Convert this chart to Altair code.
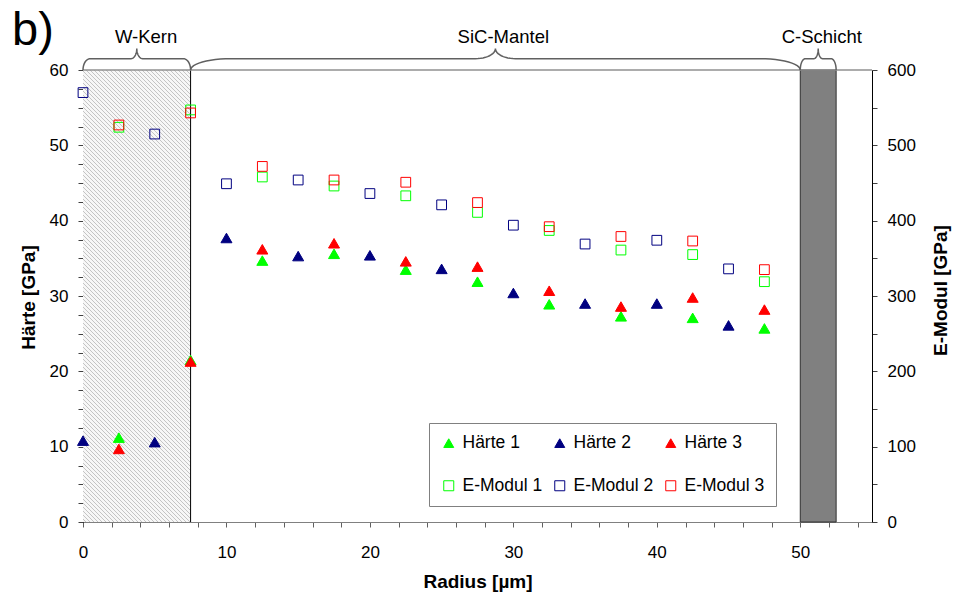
import altair as alt
import pandas as pd
import math

FONT = "Liberation Sans"

# ---------------- data ----------------
X_ODD = [2.5, 7.5, 12.5, 17.5, 22.5, 27.5, 32.5, 37.5, 42.5, 47.5]
X_EVEN = [0, 5, 10, 15, 20, 25, 30, 35, 40, 45]

HAERTE_1 = [11.2, 21.5, 34.7, 35.6, 33.5, 31.9, 28.9, 27.3, 27.1, 25.7]
HAERTE_2 = [10.8, 10.6, 37.7, 35.3, 35.4, 33.6, 30.4, 29.0, 29.0, 26.1]
HAERTE_3 = [9.7, 21.3, 36.2, 37.0, 34.6, 33.9, 30.7, 28.6, 29.8, 28.2]

EMODUL_1 = [524, 547, 458, 446, 433, 411, 387, 361, 355, 319]
EMODUL_2 = [570, 515, 449, 454, 436, 421, 394, 369, 374, 336]
EMODUL_3 = [527, 543, 472, 454, 451, 424, 392, 379, 373, 335]

# legend order (legend grid is filled column by column)
SERIES = ["Härte 1", "E-Modul 1", "Härte 2", "E-Modul 2", "Härte 3", "E-Modul 3"]
STROKES = ["#00FF00", "#00FF00", "#000080", "#000080", "#FF0000", "#FF0000"]
FILLS = ["#00FF00", "transparent", "#000080", "transparent", "#FF0000", "transparent"]
SHAPES = ["triangle-up", "square", "triangle-up", "square", "triangle-up", "square"]

REGION_START = [0, 7.5, 50]
REGION_END = [7.5, 50, 52.5]
REGION_LABEL = ["W-Kern", "SiC-Mantel", "C-Schicht"]
LABEL_X = [4.4, 29.3, 51.5]
BRACE_END_W = [0.5, 2.8, 0.35]
BRACE_CUSP_W = [0.4, 1.4, 0.3]

X_TICKS = list(range(0, 55, 2))
YL_TICKS = [i * 2.5 for i in range(25)]
YR_TICKS = list(range(0, 601, 50))

W, H = 789, 452
XMAX, YMAX, EMAX = 55, 60, 600

# ---------------- tables ----------------
h_rows = []
for name, xs_, vals in [("Härte 1", X_ODD, HAERTE_1), ("Härte 2", X_EVEN, HAERTE_2), ("Härte 3", X_ODD, HAERTE_3)]:
    for x, v in zip(xs_, vals):
        h_rows.append({"r": x, "v": v, "series": name})
h_df = pd.DataFrame(h_rows)

e_rows = []
for name, xs_, vals in [("E-Modul 1", X_ODD, EMODUL_1), ("E-Modul 2", X_EVEN, EMODUL_2), ("E-Modul 3", X_ODD, EMODUL_3)]:
    for x, v in zip(xs_, vals):
        e_rows.append({"r": x, "v": v, "series": name})
e_df = pd.DataFrame(e_rows)

FLAT_H, PEAK_H = 1.5, 2.85
brace_rows = []
for gi, (x0, x1, ew, cw) in enumerate(zip(REGION_START, REGION_END, BRACE_END_W, BRACE_CUSP_W)):
    m = (x0 + x1) / 2
    pts = []
    n = 12
    for i in range(n + 1):
        t = math.pi / 2 * i / n
        pts.append((x0 + ew * (1 - math.cos(t)), YMAX + FLAT_H * math.sin(t)))
    for i in range(n + 1):
        t = math.pi / 2 * i / n
        pts.append((m - cw + cw * math.sin(t), YMAX + FLAT_H + (PEAK_H - FLAT_H) * (1 - math.cos(t))))
    for i in range(n + 1):
        t = math.pi / 2 * (n - i) / n
        pts.append((m + cw - cw * math.sin(t), YMAX + FLAT_H + (PEAK_H - FLAT_H) * (1 - math.cos(t))))
    for i in range(n + 1):
        t = math.pi / 2 * (n - i) / n
        pts.append((x1 - ew * (1 - math.cos(t)), YMAX + FLAT_H * math.sin(t)))
    for k, (bx, by) in enumerate(pts):
        brace_rows.append({"bx": bx, "by": by, "grp": gi, "idx": k})
brace_df = pd.DataFrame(brace_rows)

label_df = pd.DataFrame({"lx": LABEL_X, "ly": [64.4] * 3, "t": REGION_LABEL})

core_df = pd.DataFrame({"x0": [REGION_START[0]], "x1": [REGION_END[0]], "y0": [0], "y1": [YMAX]})
cschicht_df = pd.DataFrame({"x0": [REGION_START[2]], "x1": [REGION_END[2]], "y0": [0], "y1": [YMAX]})
edge_df = pd.DataFrame({"x0": [REGION_END[0]], "y0": [0], "y1": [YMAX]})
top_df = pd.DataFrame({"x0": [0], "x1": [XMAX], "y0": [YMAX]})

# ---------------- hatch as a striped gradient ----------------
w_px = (REGION_END[0] - REGION_START[0]) / XMAX * W
h_px = H
kk = (w_px + h_px) / (w_px ** 2 + h_px ** 2)
period = 4.0
N = int(round((w_px + h_px) / period))
frac = 0.32
LINE_C, BG_C = "#c4c4c4", "#f7f7f7"
stops = []
for i in range(N):
    a, b, c = i / N, (i + frac) / N, (i + 1) / N
    stops += [{"offset": round(a, 6), "color": LINE_C}, {"offset": round(b, 6), "color": LINE_C},
              {"offset": round(b, 6), "color": BG_C}, {"offset": round(min(c, 1), 6), "color": BG_C}]
hatch = {"gradient": "linear", "x1": 1, "y1": 0, "x2": 1 - w_px * kk, "y2": h_px * kk, "stops": stops}

# ---------------- scales / axes ----------------
xs = alt.Scale(domain=[0, XMAX], nice=False, zero=False)
ys = alt.Scale(domain=[0, YMAX], nice=False)
es = alt.Scale(domain=[0, EMAX], nice=False)

x_axis = alt.Axis(title="Radius [µm]", values=X_TICKS,
                  labelExpr="datum.value % 10 === 0 ? datum.label : ''",
                  tickSize=5, labelPadding=17, labelFont=FONT, labelFontSize=17, labelColor="black",
                  titleFont=FONT, titleFontSize=19, titleFontWeight="bold", titleColor="black",
                  titleY=59, titleBaseline="middle",
                  domainColor="#808080", tickColor="#606060", grid=False,
                  labelFlush=False, labelOverlap=False)
yl_axis = alt.Axis(title="Härte [GPa]", orient="left", values=YL_TICKS,
                   labelExpr="datum.value % 10 === 0 ? datum.label : ''",
                   tickSize=5, labelPadding=10, labelFont=FONT, labelFontSize=17, labelColor="black",
                   titleFont=FONT, titleFontSize=19, titleFontWeight="bold", titleColor="black",
                   titleX=-55, titleY=227, titleAngle=270, titleBaseline="middle", titleAlign="center",
                   domainColor="black", tickColor="#404040", grid=False, labelOverlap=False)
yr_axis = alt.Axis(title="E-Modul [GPa]", orient="right", values=YR_TICKS,
                   labelExpr="datum.value % 100 === 0 ? datum.label : ''",
                   tickSize=5, labelPadding=10, labelFont=FONT, labelFontSize=17, labelColor="black",
                   titleFont=FONT, titleFontSize=19, titleFontWeight="bold", titleColor="black",
                   titleX=68, titleY=220, titleAngle=270, titleBaseline="middle", titleAlign="center",
                   domainColor="black", tickColor="#404040", grid=False, labelOverlap=False)

legend = alt.Legend(title=None, orient="none", legendX=346, legendY=353, columns=3,
                    symbolSize=100, symbolStrokeWidth=1, labelFont=FONT, labelFontSize=17.5,
                    labelColor="black", labelOffset=5, padding=11, rowPadding=24, columnPadding=8,
                    fillColor="white", strokeColor="#808080")

fill_enc = alt.Fill("series:N", scale=alt.Scale(domain=SERIES, range=FILLS), legend=legend)
stroke_enc = alt.Stroke("series:N", scale=alt.Scale(domain=SERIES, range=STROKES), legend=legend)
shape_enc = alt.Shape("series:N", scale=alt.Scale(domain=SERIES, range=SHAPES), legend=legend)


def X(field):
    return alt.X(field, scale=xs, axis=x_axis)


def Y(field):
    return alt.Y(field, scale=ys, axis=yl_axis)


# ---------------- layers ----------------
core = alt.Chart(core_df).mark_rect(fill=hatch, strokeWidth=0).encode(
    x=X("x0:Q"), x2="x1:Q", y=Y("y0:Q"), y2="y1:Q")

cschicht = alt.Chart(cschicht_df).mark_rect(fill="#808080", stroke="#303030", strokeWidth=1).encode(
    x=X("x0:Q"), x2="x1:Q", y=Y("y0:Q"), y2="y1:Q")

edge = alt.Chart(edge_df).mark_rule(color="black", strokeWidth=1).encode(
    x=X("x0:Q"), y=Y("y0:Q"), y2="y1:Q")

top = alt.Chart(top_df).mark_rule(color="#909090", strokeWidth=1.5).encode(
    x=X("x0:Q"), x2="x1:Q", y=Y("y0:Q"))

braces = alt.Chart(brace_df).mark_line(color="#606060", strokeWidth=1.5, clip=False).encode(
    x=X("bx:Q"), y=Y("by:Q"), detail="grp:N", order="idx:Q")

labels = alt.Chart(label_df).mark_text(font=FONT, fontSize=18.5, color="black",
                                       align="center", baseline="middle").encode(
    x=X("lx:Q"), y=Y("ly:Q"), text="t:N")

panel = alt.Chart(pd.DataFrame({"t": ["b)"]})).mark_text(
    font=FONT, fontSize=47, color="black", align="left", baseline="alphabetic").encode(
    text="t:N", x=alt.value(-71), y=alt.value(-25))

h_pts = alt.Chart(h_df).mark_point(size=121, opacity=1, strokeWidth=1).encode(
    x=X("r:Q"), y=Y("v:Q"),
    fill=fill_enc, stroke=stroke_enc, shape=shape_enc)

e_pts = alt.Chart(e_df).mark_point(size=95, opacity=1, strokeWidth=1).encode(
    x=X("r:Q"),
    y=alt.Y("v:Q", scale=es, axis=yr_axis),
    fill=fill_enc, stroke=stroke_enc, shape=shape_enc)

inner = alt.layer(core, cschicht, edge, top, braces, labels, panel, h_pts)

chart = alt.layer(inner, e_pts).resolve_scale(y="independent").properties(
    width=W, height=H,
    padding={"left": 83, "top": 70, "right": 82, "bottom": 73},
    autosize=alt.AutoSizeParams(type="none"),
    background="white",
).configure_view(stroke=None)

chart.save("out.html", embed_options={"renderer": "svg", "actions": False})
